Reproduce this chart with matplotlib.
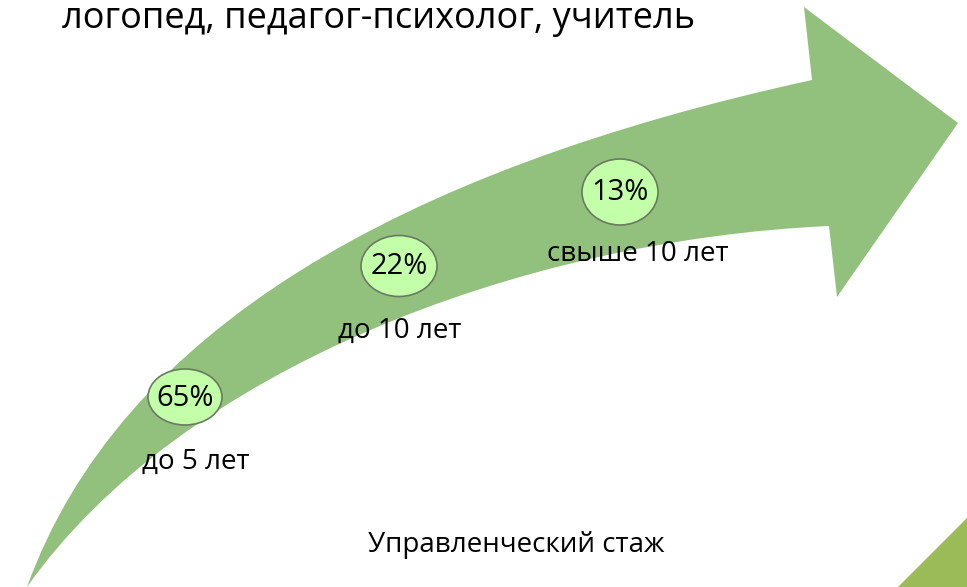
import matplotlib.pyplot as plt
from matplotlib.path import Path
from matplotlib.patches import PathPatch, Polygon, Ellipse

# data
shares = [65, 22, 13]
groups = ['до 5 лет', 'до 10 лет', 'свыше 10 лет']
title = 'логопед, педагог-психолог, учитель'
caption = 'Управленческий стаж'

plt.rcParams['font.family'] = ['Open Sans', 'DejaVu Sans']

fig = plt.figure(figsize=(9.67, 5.87), dpi=100)
ax = fig.add_axes([0, 0, 1, 1])
ax.set_xlim(0, 967)
ax.set_ylim(587, 0)
ax.axis('off')

arrow_col = '#92c07d'

# curved shaft (pixel-like coords, y down)
verts = [
    (27, 587), (120, 330), (400, 170), (812, 80),   # upper edge
    (804, 7), (958, 123), (837, 297), (829, 226),   # head
    (520, 240), (180, 370), (27, 587),              # lower edge back to tail
]
codes = [Path.MOVETO, Path.CURVE4, Path.CURVE4, Path.CURVE4,
         Path.LINETO, Path.LINETO, Path.LINETO, Path.LINETO,
         Path.CURVE4, Path.CURVE4, Path.CURVE4]
ax.add_patch(PathPatch(Path(verts, codes), facecolor=arrow_col, edgecolor='none'))

# corner triangle bottom right
ax.add_patch(Polygon([(898, 587), (967, 518), (967, 587)], closed=True,
                     facecolor='#9bbb59', edgecolor='none'))

# bubbles and labels
bubble_xy = [(185, 397), (399, 266), (620, 192)]
bubble_wh = [(74, 56), (76, 61), (76, 66)]
label_xy = [(196, 462), (400, 331), (638, 254)]

for s, g, (bx, by), (bw, bh), (lx, ly) in zip(shares, groups, bubble_xy, bubble_wh, label_xy):
    ax.add_patch(Ellipse((bx, by), bw, bh, facecolor='#c2ffa8',
                         edgecolor='#6a7a62', linewidth=1.2))
    ax.text(bx, by + 1, f'{s}%', fontsize=21, ha='center', va='center', color='black')
    ax.text(lx, ly, g, fontsize=20, ha='center', va='center', color='black')

ax.text(62, 28, title, fontsize=26, ha='left', va='baseline', color='black')
ax.text(516, 545, caption, fontsize=20, ha='center', va='center', color='black')

fig.savefig('out.png', dpi=100)
